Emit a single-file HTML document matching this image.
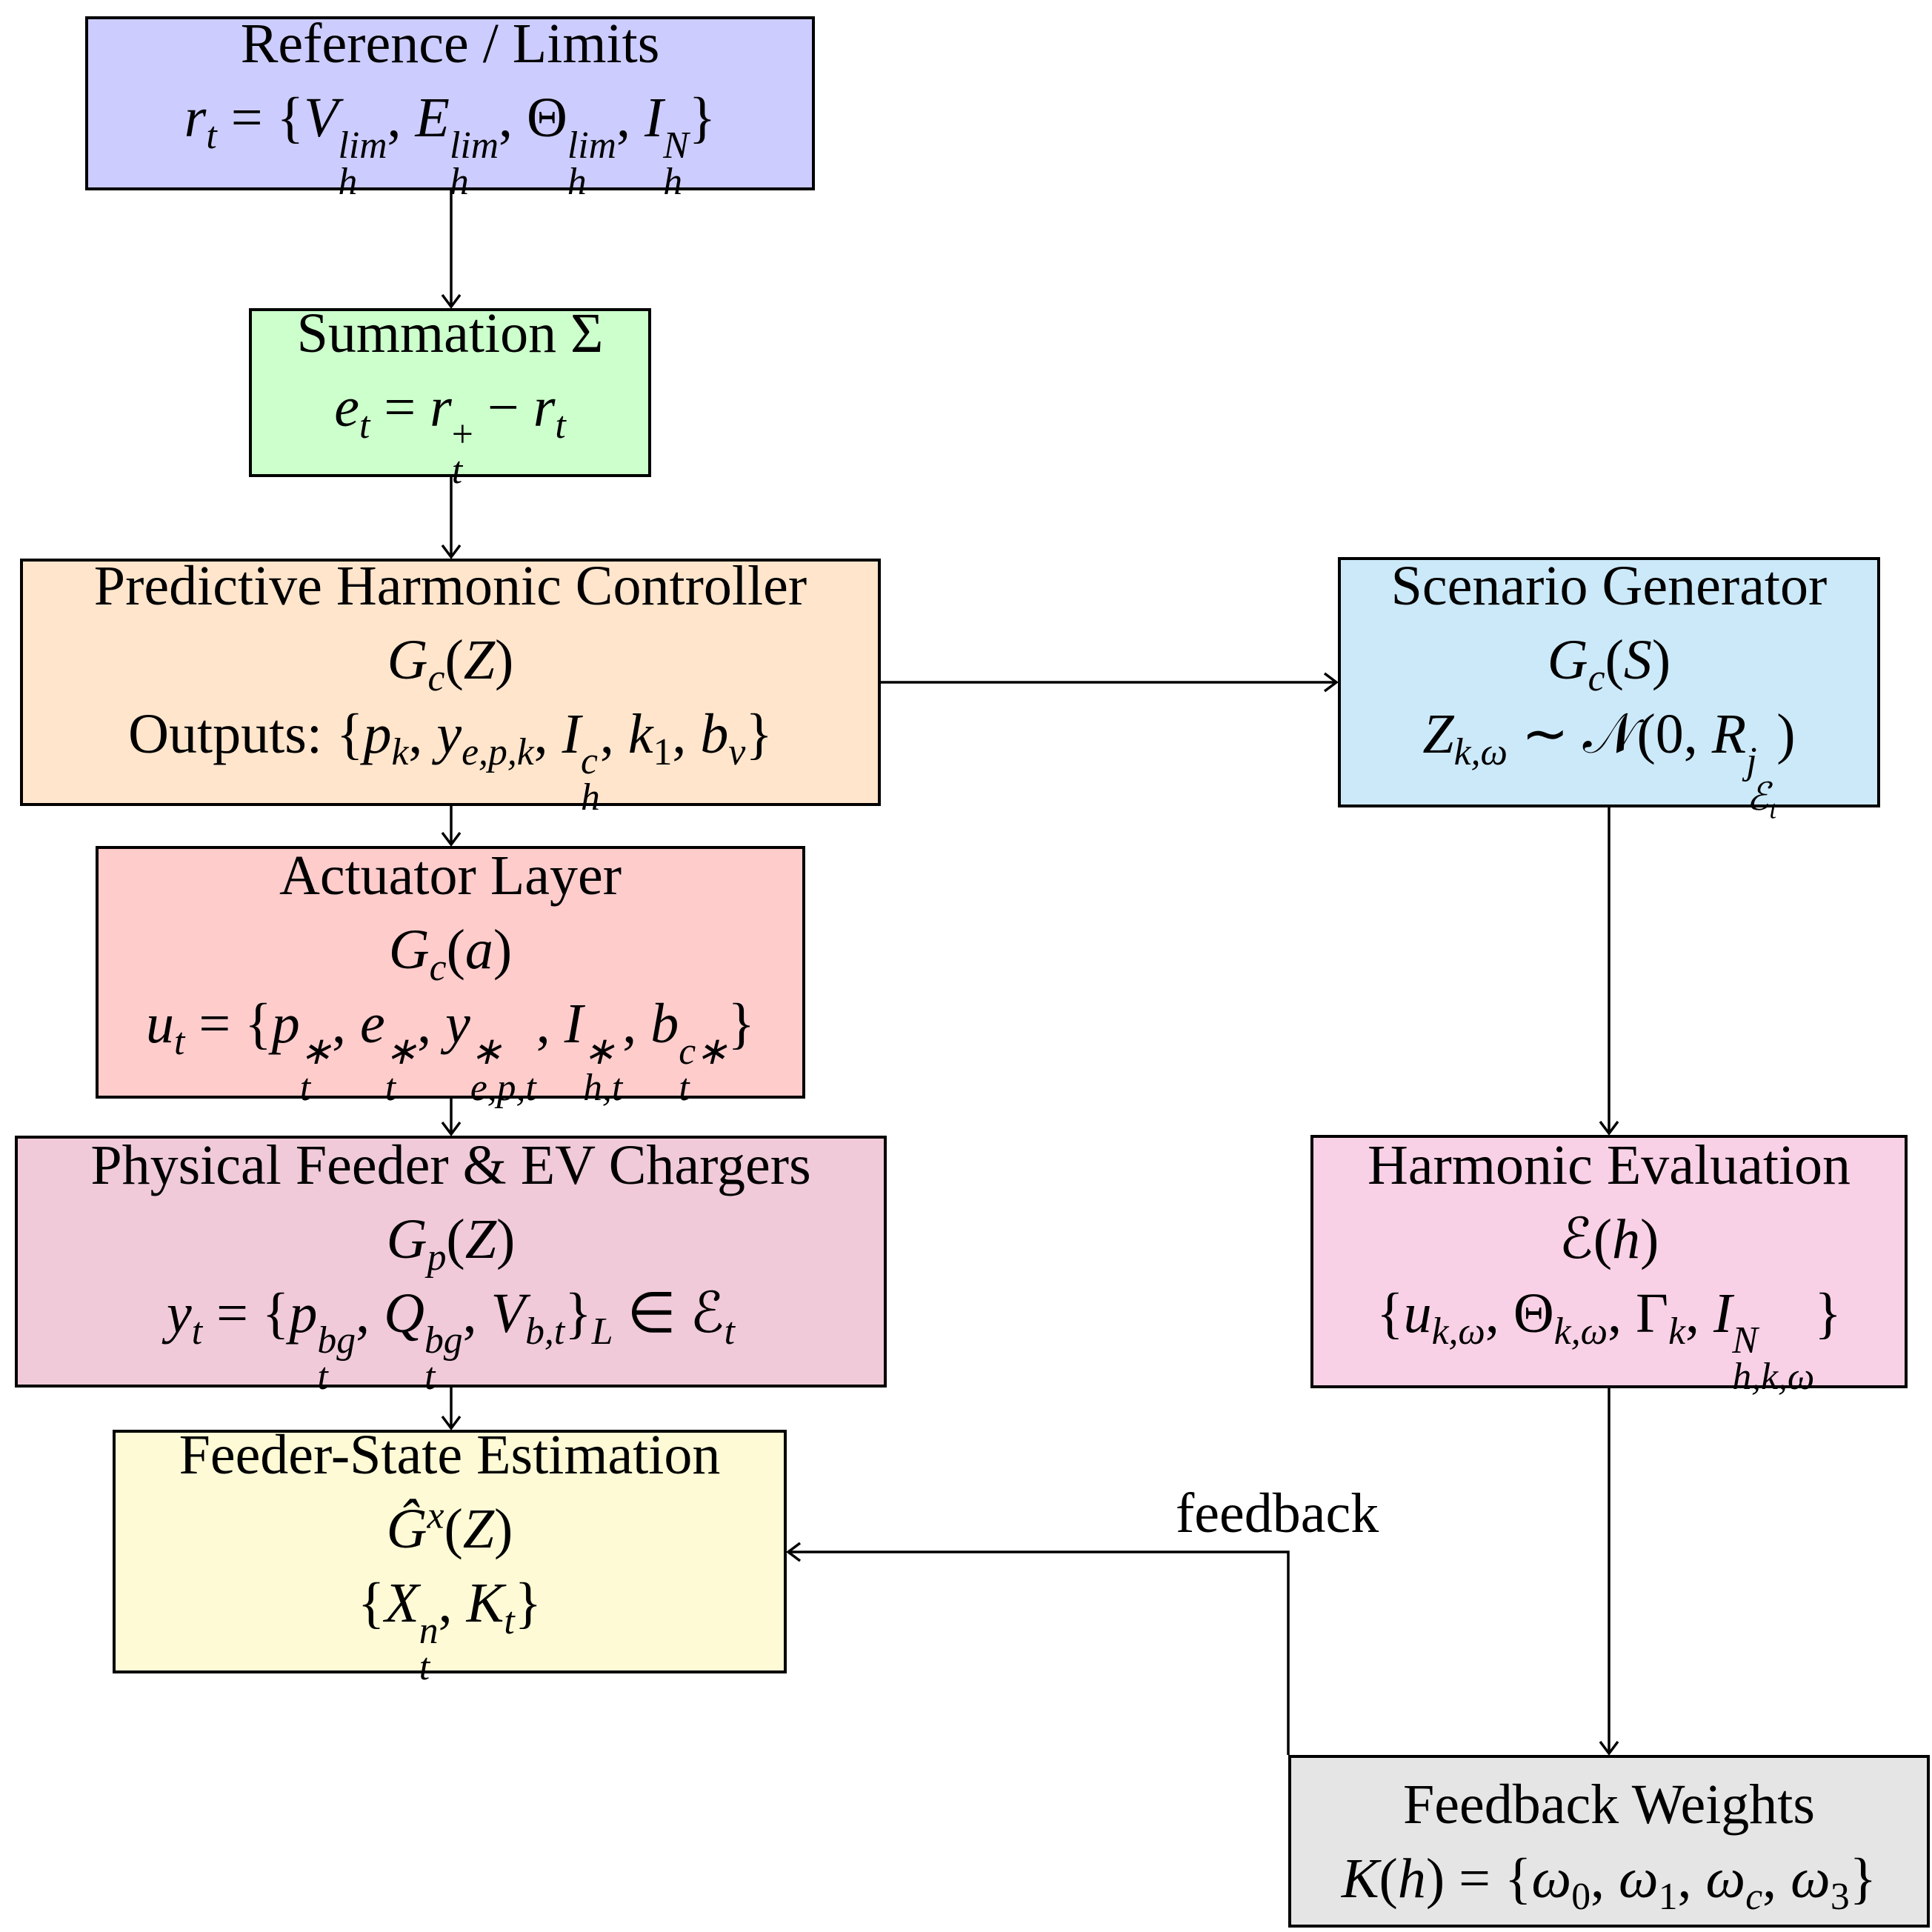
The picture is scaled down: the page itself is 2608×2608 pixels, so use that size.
<!DOCTYPE html>
<html><head><meta charset="utf-8"><style>
html,body{margin:0;padding:0;background:#fff}
body{width:2608px;height:2608px;position:relative;overflow:hidden;font-family:"Liberation Serif",serif;color:#000}
.b{position:absolute;box-sizing:border-box;border:4px solid #000;display:flex;flex-direction:column;justify-content:center;align-items:center;font-size:76px;line-height:100px;text-align:center;white-space:nowrap}
i{font-style:italic}
.ss{display:inline-flex;flex-direction:column;vertical-align:-0.55em;font-size:0.68em;line-height:0.95;text-align:left;font-style:italic}
sub,sup{font-size:0.68em;font-style:italic;line-height:0}
svg{position:absolute;left:0;top:0}
.lbl{position:absolute;font-size:76px;line-height:1}
</style></head><body>
<svg width="2608" height="2608" viewBox="0 0 2608 2608" fill="none" stroke="#000" stroke-width="3.5">
<line x1="609" y1="257" x2="609" y2="414"/><polyline points="597,398 609,414 621,398"/>
<line x1="609" y1="644" x2="609" y2="752"/><polyline points="597,736 609,752 621,736"/>
<line x1="609" y1="1088" x2="609" y2="1140"/><polyline points="597,1124 609,1140 621,1124"/>
<line x1="609" y1="1483" x2="609" y2="1531"/><polyline points="597,1515 609,1531 621,1515"/>
<line x1="609" y1="1873" x2="609" y2="1928"/><polyline points="597,1912 609,1928 621,1912"/>
<line x1="1189" y1="921" x2="1804" y2="921"/><polyline points="1788,909 1804,921 1788,933"/>
<line x1="2172" y1="1090" x2="2172" y2="1530"/><polyline points="2160,1514 2172,1530 2184,1514"/>
<line x1="2172" y1="1874" x2="2172" y2="2367"/><polyline points="2160,2351 2172,2367 2184,2351"/>
<polyline points="1739,2369 1739,2095 1064,2095"/><polyline points="1080,2083 1064,2095 1080,2107"/>
</svg>
<div class="lbl" style="left:1587px;top:2005px">feedback</div>

<div class="b" style="left:115px;top:22px;width:985px;height:235px;background:#ccccff">
<div>Reference / Limits</div>
<div><i>r</i><sub>t</sub> = {<i>V</i><span class="ss"><span>lim</span><span>h</span></span>, <i>E</i><span class="ss"><span>lim</span><span>h</span></span>, Θ<span class="ss"><span>lim</span><span>h</span></span>, <i>I</i><span class="ss"><span>N</span><span>h</span></span>}</div></div>

<div class="b" style="left:336px;top:416px;width:543px;height:228px;background:#ccffcc">
<div>Summation Σ</div>
<div><i>e</i><sub>t</sub> = <i>r</i><span class="ss"><span style="font-style:normal">+</span><span>t</span></span> − <i>r</i><sub>t</sub></div></div>

<div class="b" style="left:27px;top:754px;width:1162px;height:334px;background:#ffe5cc">
<div>Predictive Harmonic Controller</div>
<div><i>G</i><sub>c</sub>(<i>Z</i>)</div>
<div>Outputs: {<i>p</i><sub>k</sub>, <i>y</i><sub>e,p,k</sub>, <i>I</i><span class="ss"><span>c</span><span>h</span></span>, <i>k</i><sub style="font-style:normal">1</sub>, <i>b</i><sub>v</sub>}</div></div>

<div class="b" style="left:1806px;top:752px;width:732px;height:338px;background:#cce9f9">
<div>Scenario Generator</div>
<div><i>G</i><sub>c</sub>(<i>S</i>)</div>
<div><i>Z</i><sub>k,ω</sub> ∼ 𝒩(0, <i>R</i><span class="ss"><span>j</span><span>ℰ<sub>t</sub></span></span>)</div></div>

<div class="b" style="left:129px;top:1142px;width:958px;height:341px;background:#ffcccc">
<div>Actuator Layer</div>
<div><i>G</i><sub>c</sub>(<i>a</i>)</div>
<div><i>u</i><sub>t</sub> = {<i>p</i><span class="ss"><span>∗</span><span>t</span></span>, <i>e</i><span class="ss"><span>∗</span><span>t</span></span>, <i>y</i><span class="ss"><span>∗</span><span>e,p,t</span></span>, <i>I</i><span class="ss"><span>∗</span><span>h,t</span></span>, <i>b</i><span class="ss"><span>c∗</span><span>t</span></span>}</div></div>

<div class="b" style="left:20px;top:1533px;width:1177px;height:340px;background:#f0cad8">
<div>Physical Feeder &amp; EV Chargers</div>
<div><i>G</i><sub>p</sub>(<i>Z</i>)</div>
<div><i>y</i><sub>t</sub> = {<i>p</i><span class="ss"><span>bg</span><span>t</span></span>, <i>Q</i><span class="ss"><span>bg</span><span>t</span></span>, <i>V</i><sub>b,t</sub>}<sub>L</sub> ∈ ℰ<sub>t</sub></div></div>

<div class="b" style="left:1769px;top:1532px;width:806px;height:342px;background:#f9d1e6">
<div>Harmonic Evaluation</div>
<div>ℰ(<i>h</i>)</div>
<div>{<i>u</i><sub>k,ω</sub>, Θ<sub>k,ω</sub>, Γ<sub>k</sub>, <i>I</i><span class="ss"><span>N</span><span>h,k,ω</span></span>}</div></div>

<div class="b" style="left:152px;top:1930px;width:910px;height:329px;background:#fdfad5">
<div>Feeder-State Estimation</div>
<div><i>Ĝ</i><sup>x</sup>(<i>Z</i>)</div>
<div>{<i>X</i><span class="ss"><span>n</span><span>t</span></span>, <i>K</i><sub>t</sub>}</div></div>

<div class="b" style="left:1739px;top:2369px;width:866px;height:233px;background:#e5e5e5">
<div>Feedback Weights</div>
<div><i>K</i>(<i>h</i>) = {<i>ω</i><sub style="font-style:normal">0</sub>, <i>ω</i><sub style="font-style:normal">1</sub>, <i>ω</i><sub>c</sub>, <i>ω</i><sub style="font-style:normal">3</sub>}</div></div>
</body></html>
